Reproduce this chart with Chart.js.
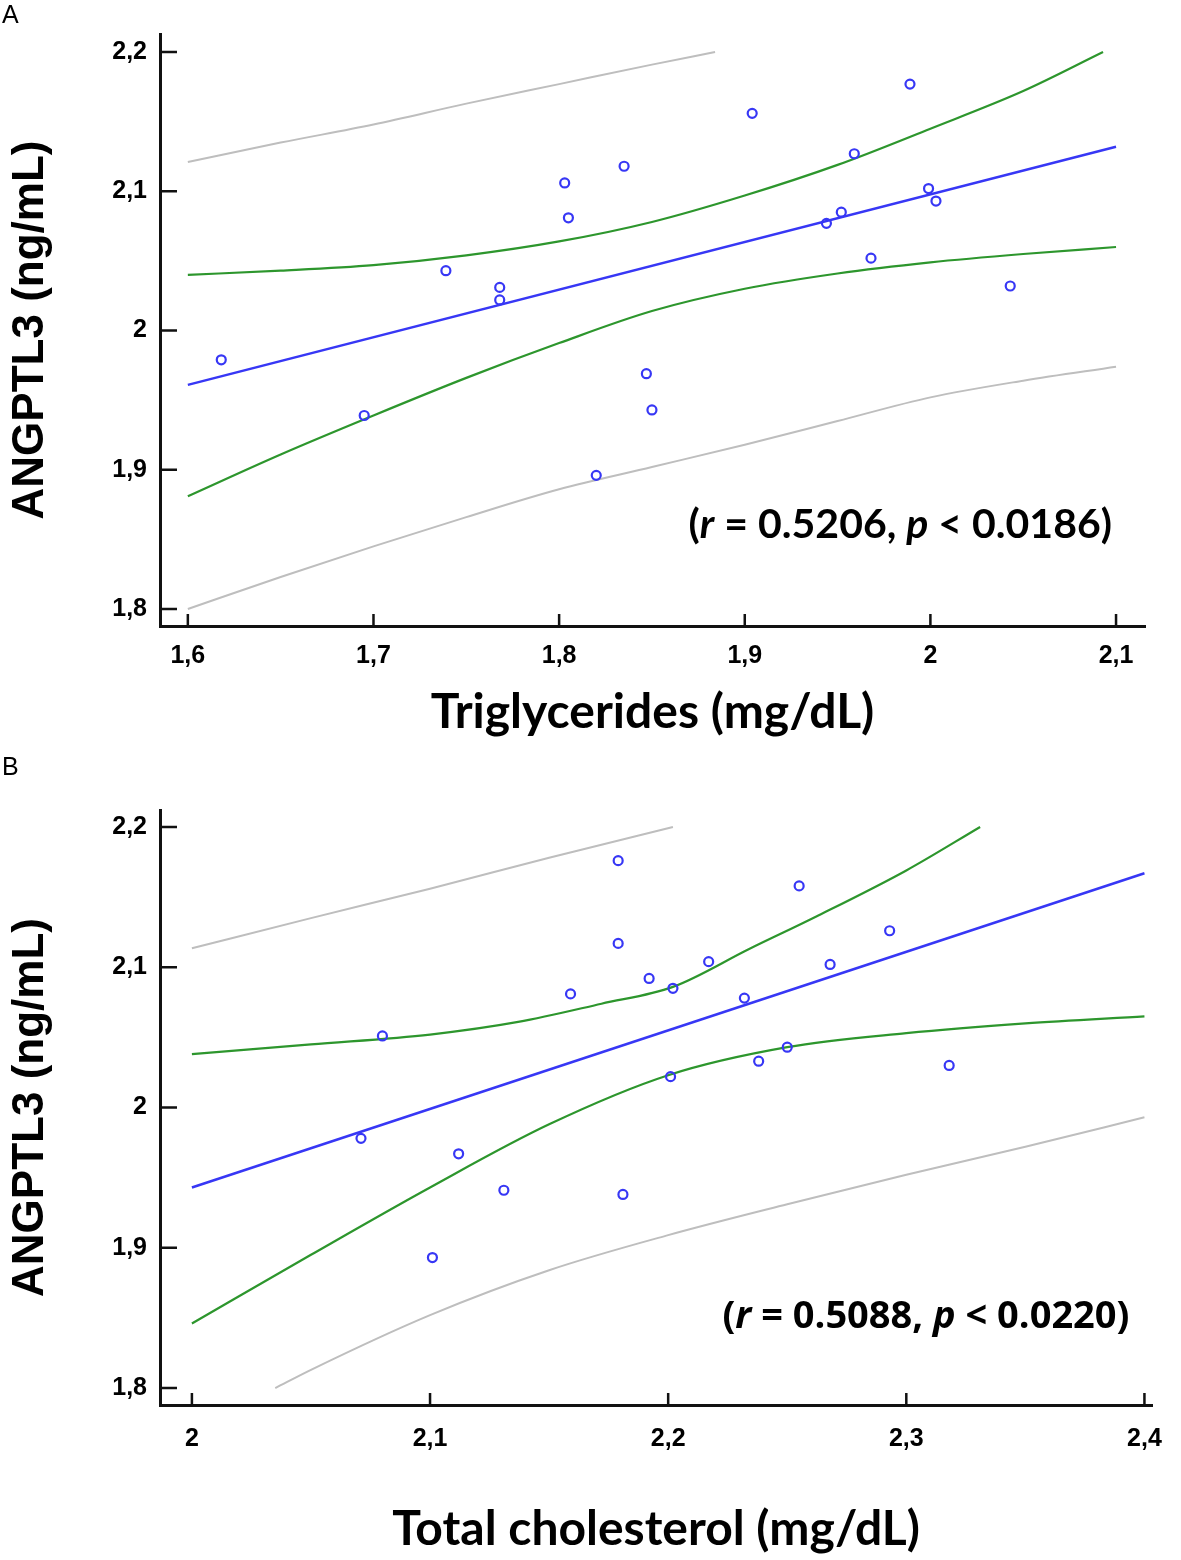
<!DOCTYPE html>
<html>
<head>
<meta charset="utf-8">
<script src="https://cdn.jsdelivr.net/npm/chart.js@4.4.1/dist/chart.umd.min.js"></script>
<style>
  body { margin: 0; background: #fff; }
  #page { position: relative; width: 1181px; height: 1560px; }
  canvas { position: absolute; left: 0; }
  .panel-label { position: absolute; left: 2px; font: 25px "Liberation Sans", Arial, sans-serif; color: #000; }
</style>
</head>
<body>
<div id="page">
  <canvas id="plotA" width="1181" height="750" style="top:0"></canvas>
  <canvas id="plotB" width="1181" height="810" style="top:750px"></canvas>
  <div class="panel-label" style="top:0">A</div>
  <div class="panel-label" style="top:752px">B</div>
</div>
<script>
// ---- panel A: triglycerides vs ANGPTL3 ----
const tgX = [1.618, 1.695, 1.739, 1.768, 1.768, 1.803, 1.805, 1.835, 1.847, 1.850,
             1.820, 1.904, 1.989, 1.959, 1.944, 1.952, 1.999, 2.003, 1.968, 2.043];
const tgY = [1.979, 1.939, 2.043, 2.031, 2.022, 2.106, 2.081, 2.118, 1.969, 1.943,
             1.896, 2.156, 2.177, 2.127, 2.077, 2.085, 2.102, 2.093, 2.052, 2.032];

const fitXA = [1.6, 2.1];
const fitYA = [1.961, 2.132];
const ciUpXA = [1.6, 1.65, 1.7, 1.75, 1.8, 1.85, 1.9, 1.95, 2.0, 2.05, 2.093];
const ciUpYA = [2.040, 2.043, 2.047, 2.054, 2.064, 2.078, 2.097, 2.119, 2.145, 2.172, 2.2];
const ciLoXA = [1.6, 1.65, 1.7, 1.75, 1.8, 1.85, 1.9, 1.95, 2.0, 2.05, 2.1];
const ciLoYA = [1.881, 1.911, 1.939, 1.966, 1.991, 2.014, 2.030, 2.041, 2.049, 2.055, 2.060];
const prUpXA = [1.6, 1.65, 1.7, 1.75, 1.8, 1.85, 1.884];
const prUpYA = [2.121, 2.135, 2.148, 2.163, 2.177, 2.191, 2.2];
const prLoXA = [1.6, 1.65, 1.7, 1.75, 1.8, 1.85, 1.9, 1.95, 2.0, 2.05, 2.1];
const prLoYA = [1.800, 1.823, 1.845, 1.866, 1.886, 1.902, 1.918, 1.935, 1.952, 1.964, 1.974];

const xTicksA = [1.6, 1.7, 1.8, 1.9, 2.0, 2.1];
const xTickLabelsA = ['1,6', '1,7', '1,8', '1,9', '2', '2,1'];
const rA = '0.5206', pA = '0.0186';

// ---- panel B: total cholesterol vs ANGPTL3 ----
const tcX = [2.179, 2.179, 2.192, 2.159, 2.080, 2.071, 2.112, 2.131, 2.181, 2.101,
             2.255, 2.293, 2.268, 2.217, 2.202, 2.232, 2.250, 2.238, 2.201, 2.318];
const tcY = [2.176, 2.117, 2.092, 2.081, 2.051, 1.978, 1.967, 1.941, 1.938, 1.893,
             2.158, 2.126, 2.102, 2.104, 2.085, 2.078, 2.043, 2.033, 2.022, 2.030];

const fitXB = [2.0, 2.4];
const fitYB = [1.943, 2.167];
const ciUpXB = [2.0, 2.05, 2.1, 2.137, 2.172, 2.202, 2.234, 2.262, 2.3, 2.331];
const ciUpYB = [2.038, 2.045, 2.052, 2.061, 2.074, 2.086, 2.113, 2.136, 2.169, 2.2];
const ciLoXB = [2.0, 2.05, 2.1, 2.15, 2.2, 2.25, 2.3, 2.35, 2.4];
const ciLoYB = [1.846, 1.895, 1.943, 1.988, 2.023, 2.043, 2.053, 2.060, 2.065];
const prUpXB = [2.0, 2.05, 2.1, 2.15, 2.202];
const prUpYB = [2.1135, 2.135, 2.156, 2.178, 2.2];
const prLoXB = [2.035, 2.05, 2.1, 2.15, 2.2, 2.25, 2.3, 2.35, 2.4];
const prLoYB = [1.800, 1.813, 1.852, 1.884, 1.909, 1.931, 1.952, 1.972, 1.993];

const xTicksB = [2.0, 2.1, 2.2, 2.3, 2.4];
const xTickLabelsB = ['2', '2,1', '2,2', '2,3', '2,4'];
const rB = '0.5088', pB = '0.0220';

// shared y axis
const yTicks = [1.8, 1.9, 2.0, 2.1, 2.2];
const yTickLabels = ['1,8', '1,9', '2', '2,1', '2,2'];
const yTitle = 'ANGPTL3 (ng/mL)';

const SANS = "'Liberation Sans', Arial, sans-serif";
const LATO = "Lato, 'Open Sans', sans-serif";
const BLUE = 'rgb(55,55,245)';
const GREEN = 'rgb(45,150,45)';
const GRAY = 'rgb(190,190,190)';

const pts = (xs, ys) => xs.map((x, i) => ({ x: x, y: ys[i] }));

// tick marks drawn inward from the axis lines
const innerTicks = {
    id: 'innerTicks',
    afterDraw(chart, args, opts) {
        const { ctx, chartArea: a, scales: { x, y } } = chart;
        ctx.save();
        ctx.strokeStyle = '#111';
        ctx.lineWidth = 2.5;
        ctx.beginPath();
        y.ticks.forEach(t => {
            const py = y.getPixelForValue(t.value);
            ctx.moveTo(a.left, py);
            ctx.lineTo(a.left + opts.yLen, py);
        });
        x.ticks.forEach(t => {
            const px = x.getPixelForValue(t.value);
            ctx.moveTo(px, a.bottom);
            ctx.lineTo(px, a.bottom - opts.xLen);
        });
        ctx.stroke();
        ctx.restore();
    }
};

// "(r = ..., p < ...)" with italic r and p, right-aligned at a data position
const corrNote = {
    id: 'corrNote',
    afterDraw(chart, args, opts) {
        const { ctx, scales: { x, y } } = chart;
        const parts = [['(', false], ['r', true], [' = ' + opts.r + ', ', false],
                       ['p', true], [' < ' + opts.p + ')', false]];
        const fontFor = it => (it ? 'italic ' : '') + 'bold ' + opts.size + 'px ' + opts.family;
        ctx.save();
        ctx.fillStyle = '#000';
        ctx.textBaseline = 'alphabetic';
        ctx.textAlign = 'left';
        let total = 0;
        parts.forEach(([s, it]) => { ctx.font = fontFor(it); total += ctx.measureText(s).width; });
        let cx = x.getPixelForValue(opts.x) - total;
        const cy = y.getPixelForValue(opts.y);
        parts.forEach(([s, it]) => {
            ctx.font = fontFor(it);
            ctx.fillText(s, cx, cy);
            cx += ctx.measureText(s).width;
        });
        ctx.restore();
    }
};

function makePlot(id, cfg) {
    const ctx = document.getElementById(id).getContext('2d');
    return new Chart(ctx, {
        type: 'scatter',
        data: {
            datasets: [
                {
                    data: pts(cfg.px, cfg.py),
                    pointRadius: 4.5,
                    pointBorderWidth: 2.2,
                    pointBorderColor: BLUE,
                    pointBackgroundColor: 'rgba(0,0,0,0)',
                },
                { data: pts(cfg.fit[0], cfg.fit[1]), showLine: true, borderColor: BLUE, borderWidth: 2.5, pointRadius: 0 },
                { data: pts(cfg.ciUp[0], cfg.ciUp[1]), showLine: true, borderColor: GREEN, borderWidth: 2.2, pointRadius: 0, cubicInterpolationMode: 'monotone' },
                { data: pts(cfg.ciLo[0], cfg.ciLo[1]), showLine: true, borderColor: GREEN, borderWidth: 2.2, pointRadius: 0, cubicInterpolationMode: 'monotone' },
                { data: pts(cfg.prUp[0], cfg.prUp[1]), showLine: true, borderColor: GRAY, borderWidth: 2, pointRadius: 0, cubicInterpolationMode: 'monotone' },
                { data: pts(cfg.prLo[0], cfg.prLo[1]), showLine: true, borderColor: GRAY, borderWidth: 2, pointRadius: 0, cubicInterpolationMode: 'monotone' },
            ]
        },
        options: {
            responsive: false,
            animation: false,
            layout: { padding: cfg.padding },
            scales: {
                x: {
                    type: 'linear',
                    min: cfg.xMin,
                    max: cfg.xMax,
                    afterBuildTicks: (scale) => { scale.ticks = cfg.xTicks.map(v => ({ value: v })); },
                    afterFit: (scale) => { scale.height = cfg.xHeight; },
                    grid: { display: false, drawTicks: false },
                    border: { display: true, color: '#111', width: 3 },
                    ticks: {
                        padding: cfg.xTickPad,
                        color: '#000',
                        font: { family: SANS, size: 25, weight: 'bold' },
                        callback: (value, index) => cfg.xTickLabels[index],
                    },
                    title: {
                        display: true,
                        text: cfg.xTitle,
                        color: '#000',
                        font: { family: LATO, size: 48, weight: 'bold' },
                        padding: { top: 0, bottom: cfg.xTitlePad },
                    },
                },
                y: {
                    type: 'linear',
                    min: cfg.yMin,
                    max: cfg.yMax,
                    afterBuildTicks: (scale) => { scale.ticks = yTicks.map(v => ({ value: v })); },
                    afterFit: (scale) => { scale.width = 160; },
                    grid: { display: false, drawTicks: false },
                    border: { display: true, color: '#111', width: 3 },
                    ticks: {
                        padding: 13,
                        color: '#000',
                        font: { family: SANS, size: 25, weight: 'bold' },
                        callback: (value, index) => yTickLabels[index],
                    },
                    title: {
                        display: true,
                        text: yTitle,
                        color: '#000',
                        font: { family: SANS, size: 44, weight: 'bold' },
                        padding: { top: 4, bottom: 0 },
                    },
                },
            },
            plugins: {
                legend: { display: false },
                tooltip: { enabled: false },
                innerTicks: { yLen: 17, xLen: 12 },
                corrNote: cfg.note,
            },
        },
        plugins: [innerTicks, corrNote],
    });
}

makePlot('plotA', {
    px: tgX, py: tgY,
    fit: [fitXA, fitYA], ciUp: [ciUpXA, ciUpYA], ciLo: [ciLoXA, ciLoYA],
    prUp: [prUpXA, prUpYA], prLo: [prLoXA, prLoYA],
    xMin: 1.585, xMax: 2.1156, yMin: 1.7878, yMax: 2.213,
    xTicks: xTicksA, xTickLabels: xTickLabelsA,
    xTitle: 'Triglycerides (mg/dL)',
    padding: { top: 34, right: 36, bottom: 0, left: 0 },
    xHeight: 124, xTickPad: 15, xTitlePad: 9,
    note: { r: rA, p: pA, x: 2.0978, y: 1.851, size: 41, family: LATO },
});

makePlot('plotB', {
    px: tcX, py: tcY,
    fit: [fitXB, fitYB], ciUp: [ciUpXB, ciUpYB], ciLo: [ciLoXB, ciLoYB],
    prUp: [prUpXB, prUpYB], prLo: [prLoXB, prLoYB],
    xMin: 1.9866, xMax: 2.4033, yMin: 1.7879, yMax: 2.2121,
    xTicks: xTicksB, xTickLabels: xTickLabelsB,
    xTitle: 'Total cholesterol (mg/dL)',
    padding: { top: 60, right: 23, bottom: 0, left: 0 },
    xHeight: 155, xTickPad: 19, xTitlePad: 2,
    note: { r: rB, p: pB, x: 2.3937, y: 1.8425, size: 38, family: "'Open Sans', sans-serif" },
});
</script>
</body>
</html>
